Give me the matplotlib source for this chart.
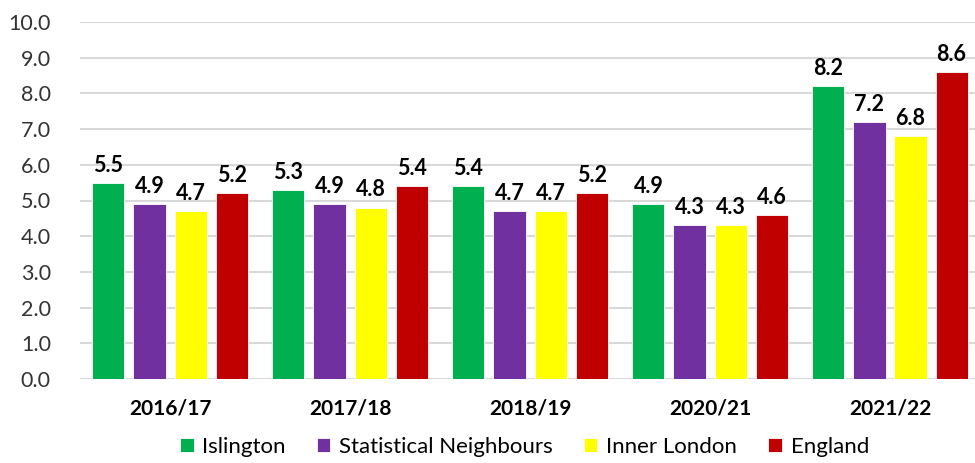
import numpy as np
import matplotlib.pyplot as plt

years = ["2016/17", "2017/18", "2018/19", "2020/21", "2021/22"]
series = ["Islington", "Statistical Neighbours", "Inner London", "England"]
islington = [5.5, 5.3, 5.4, 4.9, 8.2]
stat_neighbours = [4.9, 4.9, 4.7, 4.3, 7.2]
inner_london = [4.7, 4.8, 4.7, 4.3, 6.8]
england = [5.2, 5.4, 5.2, 4.6, 8.6]
colors = ["#00B050", "#7030A0", "#FFFF00", "#C00000"]

plt.rcParams['font.family'] = ['Lato', 'DejaVu Sans']

fig = plt.figure(figsize=(9.75, 4.63), dpi=100)
ax = fig.add_axes([80 / 975, 1 - 379 / 463, 900 / 975, (379 - 22) / 463])

x = np.arange(len(years))
width = 0.178
pitch = 0.228
for i, (vals, name) in enumerate(zip([islington, stat_neighbours, inner_london, england], series)):
    pos = x + (i - 1.5) * pitch
    ax.bar(pos, vals, width, color=colors[i], label=name, zorder=3,
           edgecolor="white", linewidth=0.6)
    for xp, v in zip(pos, vals):
        ax.text(xp, v + 0.2, f"{v:.1f}", ha="center", va="bottom",
                fontsize=15.5, fontweight="bold", color="black")

ax.set_xlim(-0.5, len(years) - 0.5)
ax.set_ylim(0, 10)
ticks = np.arange(0, 10.5, 1.0)
ax.set_yticks(ticks)
ax.set_yticklabels([f"{t:.1f}" for t in ticks], fontsize=15.5, color="#333333")
ax.set_xticks(x)
ax.set_xticklabels(years, fontsize=15, fontweight="bold")
ax.tick_params(axis="y", length=0, pad=21)
ax.tick_params(axis="x", length=0, pad=14)
ax.grid(axis="y", color="#d9d9d9", linewidth=1.5, zorder=0)
for s in ax.spines.values():
    s.set_visible(False)

fig.legend(loc="lower center", bbox_to_anchor=(0.538, -0.03), ncol=4, frameon=False,
           fontsize=16, handlelength=0.6, handleheight=0.6, handletextpad=0.4,
           columnspacing=1.4)

fig.savefig("out.png", dpi=100)
